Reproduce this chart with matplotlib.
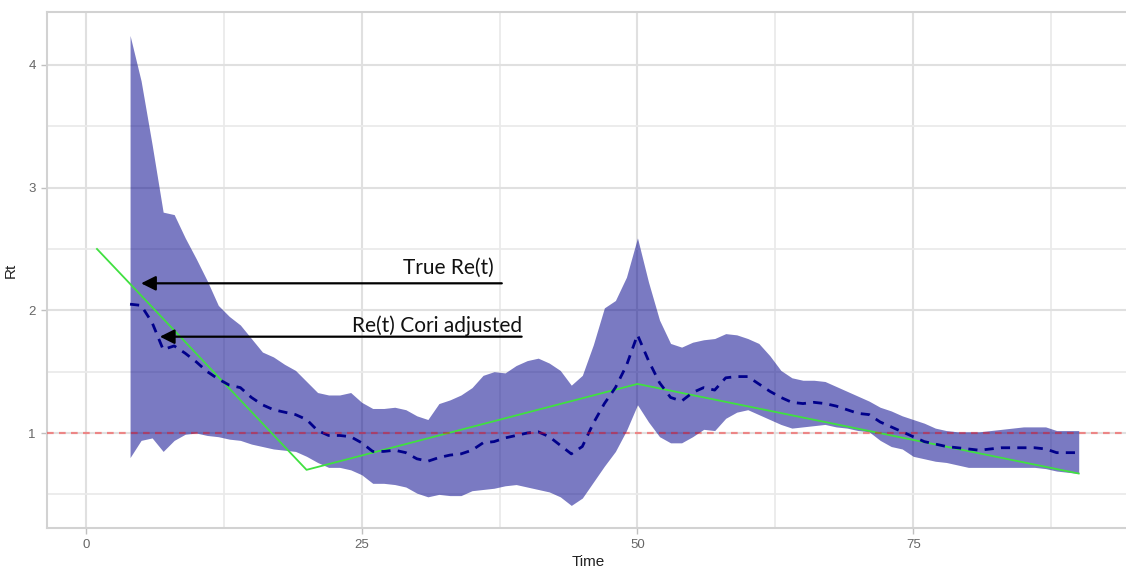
import numpy as np
import matplotlib
matplotlib.use("Agg")
import matplotlib.pyplot as plt
from matplotlib.ticker import MultipleLocator

# time steps of the Cori estimate (window starts at t = 4)
time = np.arange(4, 91)

rt_mean = [2.05, 2.04, 1.90, 1.68, 1.71, 1.65, 1.58, 1.50, 1.44, 1.39,
           1.37, 1.29, 1.23, 1.19, 1.17, 1.15, 1.11, 1.02, 0.98, 0.98,
           0.97, 0.92, 0.85, 0.85, 0.86, 0.84, 0.79, 0.77, 0.80, 0.82,
           0.83, 0.86, 0.92, 0.93, 0.96, 0.98, 1.00, 1.01, 0.97, 0.90,
           0.83, 0.89, 1.08, 1.24, 1.37, 1.55, 1.80, 1.59, 1.41, 1.29,
           1.26, 1.33, 1.37, 1.35, 1.45, 1.46, 1.46, 1.40, 1.34, 1.29,
           1.25, 1.24, 1.25, 1.24, 1.22, 1.19, 1.16, 1.15, 1.09, 1.05,
           1.01, 0.97, 0.93, 0.91, 0.89, 0.88, 0.87, 0.86, 0.87, 0.88,
           0.88, 0.88, 0.88, 0.87, 0.84, 0.84, 0.84]

rt_upper = [4.24, 3.87, 3.35, 2.80, 2.78, 2.59, 2.42, 2.24, 2.04, 1.95,
            1.88, 1.77, 1.66, 1.62, 1.56, 1.51, 1.42, 1.33, 1.31, 1.31,
            1.33, 1.25, 1.20, 1.20, 1.21, 1.19, 1.14, 1.11, 1.24, 1.27,
            1.31, 1.37, 1.47, 1.50, 1.49, 1.55, 1.59, 1.61, 1.57, 1.51,
            1.39, 1.47, 1.72, 2.02, 2.08, 2.27, 2.59, 2.23, 1.92, 1.73,
            1.70, 1.74, 1.76, 1.77, 1.81, 1.80, 1.77, 1.73, 1.63, 1.51,
            1.45, 1.43, 1.43, 1.42, 1.38, 1.34, 1.30, 1.26, 1.21, 1.18,
            1.14, 1.11, 1.08, 1.04, 1.02, 1.01, 1.01, 1.01, 1.02, 1.03,
            1.04, 1.05, 1.05, 1.05, 1.02, 1.02, 1.02]

rt_lower = [0.80, 0.94, 0.96, 0.85, 0.94, 0.99, 1.00, 0.98, 0.97, 0.95,
            0.94, 0.91, 0.89, 0.87, 0.86, 0.85, 0.81, 0.76, 0.72, 0.72,
            0.70, 0.66, 0.59, 0.59, 0.58, 0.56, 0.51, 0.48, 0.50, 0.49,
            0.49, 0.53, 0.54, 0.55, 0.57, 0.58, 0.56, 0.54, 0.52, 0.48,
            0.41, 0.47, 0.60, 0.73, 0.85, 1.02, 1.23, 1.09, 0.97, 0.92,
            0.92, 0.97, 1.03, 1.02, 1.12, 1.17, 1.19, 1.15, 1.11, 1.07,
            1.04, 1.05, 1.06, 1.07, 1.05, 1.04, 1.02, 1.01, 0.94, 0.89,
            0.87, 0.81, 0.79, 0.77, 0.76, 0.74, 0.72, 0.72, 0.72, 0.72,
            0.72, 0.72, 0.72, 0.71, 0.69, 0.68, 0.67]

# true reproduction number (piecewise linear)
true_time = [1, 20, 50, 90]
true_rt = [2.5, 0.7, 1.4, 0.67]

fig = plt.figure(figsize=(11.26, 5.72), dpi=100)
ax = fig.add_axes([47 / 1126, 44 / 572, 1083 / 1126, 516 / 572])

ax.fill_between(time, rt_lower, rt_upper, color="#00008B", alpha=0.52,
                linewidth=0, zorder=2)
ax.plot(true_time, true_rt, color="#40e040", lw=1.3, zorder=3)
ax.plot(time, rt_mean, color="#00008B", lw=2.0, dashes=(3.3, 2.6), zorder=4)
ax.axhline(1, color="red", alpha=0.4, lw=1.6, dashes=(3, 2.4), zorder=4)

# arrows pointing at the two curves
ax.annotate("", xy=(5.0, 2.22), xytext=(37.7, 2.22),
            arrowprops=dict(arrowstyle="-|>", color="black", lw=1.6,
                            mutation_scale=22, shrinkA=0, shrinkB=0),
            zorder=5)
ax.annotate("", xy=(6.7, 1.785), xytext=(39.5, 1.785),
            arrowprops=dict(arrowstyle="-|>", color="black", lw=1.6,
                            mutation_scale=22, shrinkA=0, shrinkB=0),
            zorder=5)
ax.text(37.0, 2.30, "True Re(t)", ha="right", va="baseline",
        family="Lato", fontsize=15, color="#111111", zorder=6)
ax.text(39.5, 1.82, "Re(t) Cori adjusted", ha="right", va="baseline",
        family="Lato", fontsize=15, color="#111111", zorder=6)

ax.set_xlim(-3.53, 94.65)
ax.set_ylim(0.226, 4.431)

ax.xaxis.set_major_locator(MultipleLocator(25))
ax.xaxis.set_minor_locator(MultipleLocator(12.5))
ax.yaxis.set_major_locator(MultipleLocator(1))
ax.yaxis.set_minor_locator(MultipleLocator(0.5))

ax.grid(which="major", color="#e0e0e0", lw=1.5, zorder=0)
ax.grid(which="minor", color="#eaeaea", lw=1.3, zorder=0)
ax.set_axisbelow(True)

for side in ax.spines.values():
    side.set_color("#d2d2d2")
    side.set_linewidth(1.5)
ax.spines["right"].set_visible(False)

ax.tick_params(which="major", length=4, width=1, color="#c0c0c0",
               labelcolor="#666666", labelsize=9.5, pad=4)
ax.tick_params(which="minor", length=0)
for lab in ax.get_xticklabels() + ax.get_yticklabels():
    lab.set_family("Liberation Sans")

ax.set_xlabel("Time", family="Liberation Sans", fontsize=11,
              color="#222222", labelpad=3)
ax.set_ylabel("Rt", family="Liberation Sans", fontsize=11,
              color="#222222", labelpad=8)

fig.savefig("out.png", dpi=100)
